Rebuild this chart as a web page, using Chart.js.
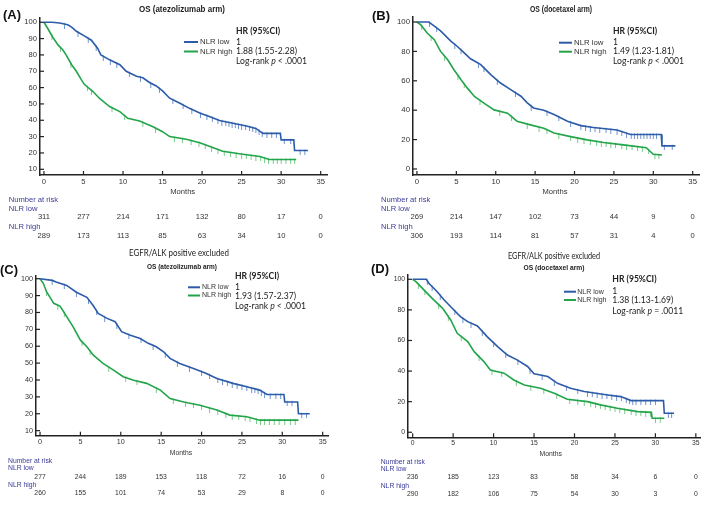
<!DOCTYPE html>
<html><head><meta charset="utf-8">
<script src="https://cdn.jsdelivr.net/npm/chart.js@4.4.1/dist/chart.umd.min.js"></script>
<style>
html,body{margin:0;padding:0;background:#fff}
body{width:709px;height:506px;position:relative;overflow:hidden}
canvas{position:absolute}
</style></head>
<body>
<canvas id="cA" width="354" height="240" style="left:0;top:0"></canvas>
<canvas id="cB" width="355" height="240" style="left:354px;top:0"></canvas>
<canvas id="cC" width="354" height="266" style="left:0;top:240px"></canvas>
<canvas id="cD" width="355" height="266" style="left:354px;top:240px"></canvas>
<script>
// ---------- DATA ----------
const monthTicks = [0,5,10,15,20,25,30,35];
const survTicksAC = [10,20,30,40,50,60,70,80,90,100];
const survTicksBD = [0,20,40,60,80,100];

// Kaplan-Meier curves: [month, % surviving]
const lowA = [[0,100],[1,100],[2,99.5],[3,98.5],[3.5,97],[4.1,94.5],[5,92],[6,89],[6.8,84],[7.2,80],[8.3,77],[9.6,74],[10.4,70],[11.7,67],[12.5,66],[13.4,63],[14.2,61],[15,58],[15.9,53.5],[17.2,50.4],[18.4,47.3],[19.7,44.5],[21,42.2],[22.2,39.8],[23.9,38.2],[25.6,36.5],[26.8,35],[27.7,32],[29.9,32],[30,28],[31.6,28],[31.7,21.5],[33.4,21.5]];
const highA = [[0,100],[0.5,96],[1.1,91],[1.8,86],[2.4,83],[2.8,80],[3.5,74],[4.1,70],[4.7,65],[5.1,62],[6.2,57.6],[7,53.5],[8.3,48.4],[9.6,45.3],[10.6,41.2],[12.1,39.5],[13.8,36],[15,33],[15.9,30],[18,28.4],[19.7,26.2],[21,24],[22.6,21],[24.7,19.5],[27.3,17.8],[28.5,16],[31.9,16]];
const lowB = [[0,100],[1.5,100],[2,98],[3,94],[4.3,87],[5.1,83.5],[6,79],[6.8,75],[8.1,71],[9.4,64],[10.6,58.5],[11.9,54],[13.2,49.5],[14,45],[14.8,41.5],[16.1,40],[17.4,37],[19.1,32.5],[20.8,29.5],[22.4,28.2],[25.4,26.5],[27.1,23.5],[31,23.5],[31.1,15.7],[32.8,15.7]];
const highB = [[0,100],[0.5,98],[1.3,92.5],[2.2,88],[3,80],[3.9,74.3],[4.7,67.5],[5.6,60.7],[6.4,55],[7.3,49.3],[8.5,44.8],[9.8,40.2],[11.5,38],[12.7,32.5],[14.4,30],[16.1,27.7],[17.4,24.5],[19.5,22],[21.6,19.8],[23.7,18],[26.2,16.4],[29.1,14.5],[30,10],[31.1,9.5]];
const lowC = [[0,100],[1.5,99],[2,98],[3.3,96],[4.5,92],[5.8,89],[6.6,84],[7.2,79.4],[8.3,76.5],[9.3,74.5],[10.1,68.6],[11.1,66.6],[12.4,64.6],[13.4,61.7],[14.4,59.7],[15.3,56.7],[16.1,52.8],[17.3,49.8],[19,46.8],[20.6,43.9],[21.9,40.9],[23.9,38],[25.6,36],[27.2,34],[28.1,31.4],[30.2,31.4],[30.3,27],[31.9,27],[32,20],[33.4,20]];
const highC = [[0,100],[0.4,97.3],[0.8,92.3],[1.7,85.4],[2.5,83.6],[3.3,77.5],[4.1,71.5],[5,63.6],[5.8,59.7],[6.6,54.7],[7.8,49.8],[9.1,45.8],[10.3,41.9],[11.6,39.9],[13.2,38],[14.9,34],[16.1,29],[17.8,27],[19.8,25],[21.9,22.2],[23.5,19.2],[25.6,18.2],[27.2,16.2],[32,16.2]];
const lowD = [[0,100],[1.7,100],[2,97.4],[3,92],[3.9,86.5],[4.7,82],[5.9,75.6],[6.8,72.3],[8,69.5],[9.2,62.5],[10.5,56],[11.7,50.5],[12.9,47.3],[14.2,43],[15,38.2],[16.7,36.4],[17.9,32],[19.5,28.8],[21.2,26.6],[24.1,24.4],[25.7,23.3],[27,20.7],[31,20.7],[31.1,12.4],[32.3,12.4]];
const highD = [[0,100],[0.4,98.5],[1,95.2],[1.8,90.8],[2.6,86.5],[3.7,81],[4.7,73.4],[5.5,64.7],[6.8,59.3],[7.6,52.7],[8.8,46.2],[9.6,40.7],[11.3,38.6],[12.5,34.2],[13.8,30.9],[15.8,28.8],[17.5,25.5],[19.1,21.6],[21.6,20],[23.2,17.9],[25.3,15.7],[27.8,13.5],[29.5,13],[29.6,9.2],[31.1,9.2]];

// censoring times (months)
const censorALow = [2.6,4.3,5.6,6.6,7.5,8.4,9.2,10.8,12.2,13.5,14.6,16.3,17.6,18.7,19.8,20.6,21.3,22.0,22.5,23.0,23.4,23.8,24.2,24.6,25.0,25.5,26.0,26.4,26.8,27.2,27.6,28.2,28.8,29.4,30.4,31.2,32.4,33.0];
const censorAHigh = [1.0,2.1,3.4,5.5,6.0,8.6,10.2,12.5,14.1,16.5,17.5,18.6,19.6,20.4,21.2,22.0,22.8,23.6,24.3,25.0,25.6,26.2,26.8,27.4,27.9,28.4,29.0,29.5,30.0,30.6,31.2,31.7];
const censorBLow = [1.6,2.5,4.8,5.6,7.8,8.5,10.2,12.5,14.5,16.5,18.0,19.5,20.8,21.4,22.0,22.6,23.2,24.0,24.6,25.4,26.0,26.6,27.2,27.6,28.0,28.4,28.8,29.2,29.6,30.0,30.4,31.4,32.4];
const censorBHigh = [0.6,1.8,3.5,5.2,6.0,8.0,10.5,12.0,14.0,15.5,16.5,18.0,19.5,20.4,21.2,22.0,22.8,23.4,24.0,24.6,25.2,26.0,26.6,27.3,28.0,28.6,29.4,30.2,30.7];
const censorCLow = [1.5,3.0,4.5,6.0,7.0,8.0,9.5,11.0,12.5,14.0,15.5,17.0,18.5,20.0,21.0,22.0,22.6,23.2,23.8,24.4,25.0,25.6,26.2,26.6,27.0,27.4,27.8,28.5,29.2,29.8,30.6,31.2,32.4,33.0];
const censorCHigh = [0.8,2.2,3.0,5.2,6.2,8.5,10.6,12.0,14.4,16.5,18.0,19.0,20.0,21.0,22.0,23.0,23.8,24.6,25.4,26.0,26.8,27.3,27.8,28.4,29.0,29.6,30.3,31.0,31.6];
const censorDLow = [1.8,2.4,3.4,5.2,6.2,7.2,8.6,10.0,11.5,13.0,14.5,16.0,17.5,19.0,20.4,21.6,22.2,22.8,23.4,24.0,24.6,25.2,25.8,26.4,26.8,27.2,27.6,28.2,28.8,29.4,30.0,31.6,32.0];
const censorDHigh = [0.7,1.5,3.2,4.4,6.0,8.2,9.8,11.0,12.8,14.6,16.2,17.8,19.4,20.4,21.2,22.0,22.6,23.2,23.8,24.4,25.0,25.6,26.2,27.0,27.6,28.2,28.8,29.4,30.0,30.6];

// number at risk
const riskLowA = [311,277,214,171,132,80,17,0];
const riskHighA = [289,173,113,85,63,34,10,0];
const riskLowB = [269,214,147,102,73,44,9,0];
const riskHighB = [306,193,114,81,57,31,4,0];
const riskLowC = [277,244,189,153,118,72,16,0];
const riskHighC = [260,155,101,74,53,29,8,0];
const riskLowD = [236,185,123,83,58,34,6,0];
const riskHighD = [290,182,106,75,54,30,3,0];

// texts
const hrA = '1.88 (1.55-2.28)', pA = '< .0001';
const hrB = '1.49 (1.23-1.81)', pB = '< .0001';
const hrC = '1.93 (1.57-2.37)', pC = '< .0001';
const hrD = '1.38 (1.13-1.69)', pD = '= .0011';

// ---------- STYLE / LAYOUT ----------
const BLUE = '#2c5ba8', GREEN = '#22a54a', BLUE_C = '#6f95d0', GREEN_C = '#79cc8a';
const NAR_COL = '#3a3a98', TXT = '#333';
const ARIAL = '"Liberation Sans", Arial, sans-serif';
const CAL = 'Lato, "Open Sans", sans-serif';

// censor tick glyph: a short vertical tick hanging below the curve
function tickGlyph(color){
  const c = document.createElement('canvas'); c.width = 3; c.height = 9;
  const g = c.getContext('2d'); g.strokeStyle = color; g.lineWidth = 1;
  g.beginPath(); g.moveTo(1.5, 3.5); g.lineTo(1.5, 9); g.stroke();
  return c;
}
const TICK_BLUE = tickGlyph(BLUE_C), TICK_GREEN = tickGlyph(GREEN_C);

const panels = [
 { id:'cA', letter:'(A)', title:'OS (atezolizumab arm)', sub:null,
   low:lowA, high:highA, cLow:censorALow, cHigh:censorAHigh, rLow:riskLowA, rHigh:riskHighA, yTicks:survTicksAC, hr:hrA, p:pA,
   L:{ yW:40, xH:20, pad:{left:0,top:18,right:27,bottom:45}, xMin:-0.5, xMax:35.8, yMin:6.5, yMax:102.6, fs:7.6,
       letterPos:[3,15.5,13], titlePos:[182,10,8.2,86], subPos:null,
       hrX:236, hrY:[31,42,51.5,61], hrFs:8.6, leg:[184,198,200,42,51.5], legFs:7.8,
       monthsPos:[182.7,192], narX:8.7, narY:[200,208.7,217.3,226.7,235.7], narFs:7.6 } },
 { id:'cB', letter:'(B)', title:'OS (docetaxel arm)', sub:null,
   low:lowB, high:highB, cLow:censorBLow, cHigh:censorBHigh, rLow:riskLowB, rHigh:riskHighB, yTicks:survTicksBD, hr:hrB, p:pB,
   L:{ yW:59, xH:20, pad:{left:0,top:17,right:10,bottom:45}, xMin:-0.5, xMax:35.8, yMin:-4.1, yMax:103.4, fs:7.8,
       letterPos:[18,16,13], titlePos:[207,10,8.2,62], subPos:null,
       hrX:259, hrY:[31,42.5,51.5,61], hrFs:8.6, leg:[205,218,220,42.7,51.7], legFs:7.8,
       monthsPos:[201,192], narX:27, narY:[200,208.7,217.3,226.7,235.7], narFs:7.6 } },
 { id:'cC', letter:'(C)', title:'OS (atezolizumab arm)', sub:'EGFR/ALK positive excluded',
   low:lowC, high:highC, cLow:censorCLow, cHigh:censorCHigh, rLow:riskLowC, rHigh:riskHighC, yTicks:survTicksAC, hr:hrC, p:pC,
   L:{ yW:36, xH:20, pad:{left:0,top:36,right:26,bottom:50.3}, xMin:-0.5, xMax:35.66, yMin:7, yMax:101.6, fs:7.2,
       letterPos:[0,30,13], titlePos:[182,27,7.2,70], subPos:[179,13,9.6,100],
       hrX:235, hrY:[36.7,47,56,66.7], hrFs:8.6, leg:[188,200,202,47.3,55.5], legFs:7,
       monthsPos:[181,213.3], narX:8, narY:[220.7,228.3,237,245.3,253.3], narFs:6.8 } },
 { id:'cD', letter:'(D)', title:'OS (docetaxel arm)', sub:'EGFR/ALK positive excluded',
   low:lowD, high:highD, cLow:censorDLow, cHigh:censorDHigh, rLow:riskLowD, rHigh:riskHighD, yTicks:survTicksBD, hr:hrD, p:pD,
   L:{ yW:54, xH:20, pad:{left:0,top:35,right:8.3,bottom:48.7}, xMin:-0.58, xMax:35.6, yMin:-3.3, yMax:102.8, fs:6.8,
       letterPos:[17,29,13], titlePos:[200,28.3,7.2,61], subPos:[200,16,9.6,92],
       hrX:258.3, hrY:[39.3,51.7,60,71], hrFs:8.6, leg:[210,222,223.3,51.7,60], legFs:7,
       monthsPos:[196.7,214.3], narX:26.7, narY:[221.7,229.3,237.3,246,254], narFs:6.8 } }
];

function survAt(curve, t){
  for (let i=1;i<curve.length;i++){
    if (t <= curve[i][0]) { const [x0,y0]=curve[i-1],[x1,y1]=curve[i]; return y0+(y1-y0)*(t-x0)/(x1-x0); }
  }
  return curve[curve.length-1][1];
}

function text(ctx, s, x, y, font, color, align, maxW){
  ctx.font = font; ctx.fillStyle = color; ctx.textAlign = align || 'left'; ctx.textBaseline = 'middle';
  if (maxW) { const w = ctx.measureText(s).width; if (w > maxW) { ctx.fillText(s, x, y, maxW); return; } }
  ctx.fillText(s, x, y);
}

const decor = {
  id:'decor',
  afterDraw(chart){
    const P = chart.options.plugins.decor.panel, L = P.L, ctx = chart.ctx;
    const xs = chart.scales.x, ys = chart.scales.y, ca = chart.chartArea;
    ctx.save();
    // inward tick marks
    ctx.strokeStyle = '#222'; ctx.lineWidth = 1.2;
    monthTicks.forEach(v => { const px = xs.getPixelForValue(v); ctx.beginPath(); ctx.moveTo(px, ca.bottom); ctx.lineTo(px, ca.bottom-4); ctx.stroke(); });
    P.yTicks.forEach(v => { const py = ys.getPixelForValue(v); ctx.beginPath(); ctx.moveTo(ca.left, py); ctx.lineTo(ca.left+4, py); ctx.stroke(); });
    // panel letter
    text(ctx, P.letter, L.letterPos[0], L.letterPos[1], `bold ${L.letterPos[2]}px ${ARIAL}`, '#111', 'left');
    // titles
    if (P.sub) text(ctx, P.sub, L.subPos[0], L.subPos[1], `${L.subPos[2]}px ${CAL}`, '#222', 'center', L.subPos[3]);
    text(ctx, P.title, L.titlePos[0], L.titlePos[1], `bold ${L.titlePos[2]}px ${ARIAL}`, '#222', 'center', L.titlePos[3]);
    // HR block
    text(ctx, 'HR (95%CI)', L.hrX, L.hrY[0], `bold ${L.hrFs}px ${CAL}`, '#222', 'left');
    text(ctx, '1', L.hrX, L.hrY[1], `${L.hrFs}px ${CAL}`, '#222', 'left');
    text(ctx, P.hr, L.hrX, L.hrY[2], `${L.hrFs}px ${CAL}`, '#222', 'left');
    let x = L.hrX; ctx.font = `${L.hrFs}px ${CAL}`;
    text(ctx, 'Log-rank ', x, L.hrY[3], `${L.hrFs}px ${CAL}`, '#222', 'left');
    x += ctx.measureText('Log-rank ').width;
    text(ctx, 'p', x, L.hrY[3], `italic ${L.hrFs}px ${CAL}`, '#222', 'left');
    x += ctx.measureText('p ').width;
    text(ctx, P.p, x, L.hrY[3], `${L.hrFs}px ${CAL}`, '#222', 'left');
    // legend
    const lg = L.leg;
    ctx.lineWidth = 2;
    ctx.strokeStyle = BLUE; ctx.beginPath(); ctx.moveTo(lg[0], lg[3]); ctx.lineTo(lg[1], lg[3]); ctx.stroke();
    ctx.strokeStyle = GREEN; ctx.beginPath(); ctx.moveTo(lg[0], lg[4]); ctx.lineTo(lg[1], lg[4]); ctx.stroke();
    text(ctx, 'NLR low', lg[2], lg[3], `${L.legFs}px ${ARIAL}`, TXT, 'left');
    text(ctx, 'NLR high', lg[2], lg[4], `${L.legFs}px ${ARIAL}`, TXT, 'left');
    // axis title
    text(ctx, 'Months', L.monthsPos[0], L.monthsPos[1], `${L.narFs}px ${ARIAL}`, TXT, 'center');
    // number at risk
    const f = `${L.narFs}px ${ARIAL}`;
    text(ctx, 'Number at risk', L.narX, L.narY[0], f, NAR_COL, 'left');
    text(ctx, 'NLR low', L.narX, L.narY[1], f, NAR_COL, 'left');
    text(ctx, 'NLR high', L.narX, L.narY[3], f, NAR_COL, 'left');
    monthTicks.forEach((m,i) => {
      const px = xs.getPixelForValue(m);
      text(ctx, String(P.rLow[i]), px, L.narY[2], f, TXT, 'center');
      text(ctx, String(P.rHigh[i]), px, L.narY[4], f, TXT, 'center');
    });
    ctx.restore();
  }
};

function build(P){
  const L = P.L;
  const toXY = c => c.map(([x,y]) => ({x, y}));
  const cens = (curve, ts) => ts.map(t => ({x:t, y:survAt(curve, t)}));
  new Chart(document.getElementById(P.id), {
    type:'line',
    data:{ datasets:[
      { label:'NLR low', data:toXY(P.low), borderColor:BLUE, borderWidth:1.6, pointRadius:0, tension:0, fill:false },
      { label:'NLR high', data:toXY(P.high), borderColor:GREEN, borderWidth:1.6, pointRadius:0, tension:0, fill:false },
      { label:'NLR low censored', data:cens(P.low, P.cLow), showLine:false, pointStyle:TICK_BLUE, pointRadius:4, borderColor:BLUE_C, backgroundColor:BLUE_C, pointHoverRadius:0 },
      { label:'NLR high censored', data:cens(P.high, P.cHigh), showLine:false, pointStyle:TICK_GREEN, pointRadius:4, borderColor:GREEN_C, backgroundColor:GREEN_C, pointHoverRadius:0 }
    ]},
    options:{
      responsive:false, animation:false, devicePixelRatio:1,
      layout:{ padding:L.pad },
      plugins:{ legend:{display:false}, tooltip:{enabled:false}, decor:{panel:P} },
      scales:{
        x:{ type:'linear', min:L.xMin, max:L.xMax,
            afterBuildTicks: s => { s.ticks = monthTicks.map(v => ({value:v})); },
            afterFit: s => { s.height = L.xH; },
            grid:{display:false, drawTicks:false, tickLength:0},
            border:{display:true, color:'#222', width:1.5},
            ticks:{ autoSkip:false, maxRotation:0, padding:2, color:TXT, font:{family:ARIAL, size:L.fs} } },
        y:{ type:'linear', min:L.yMin, max:L.yMax,
            afterBuildTicks: s => { s.ticks = P.yTicks.map(v => ({value:v})); },
            afterFit: s => { s.width = L.yW; },
            grid:{display:false, drawTicks:false, tickLength:0},
            border:{display:true, color:'#222', width:1.5},
            ticks:{ autoSkip:false, padding:3, color:TXT, font:{family:ARIAL, size:L.fs} } }
      }
    },
    plugins:[decor]
  });
}
panels.forEach(build);
</script>
</body></html>
